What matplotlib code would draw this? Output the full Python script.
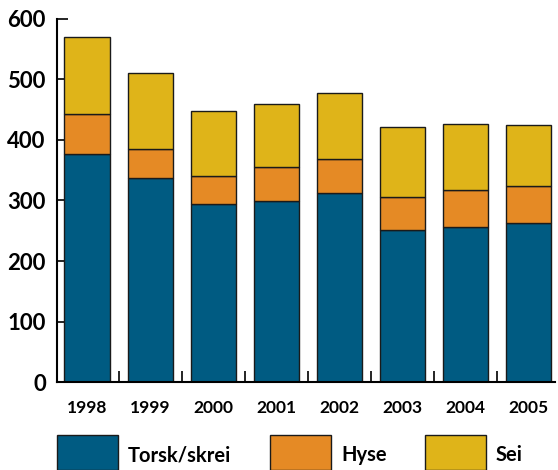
import numpy as np
import matplotlib.pyplot as plt
from matplotlib.patches import Rectangle

plt.rcParams['font.family'] = ['Lato', 'DejaVu Sans']

years = ['1998', '1999', '2000', '2001', '2002', '2003', '2004', '2005']
torsk = [377, 337, 294, 299, 312, 251, 256, 263]
hyse = [66, 48, 46, 56, 57, 55, 61, 61]
sei = [127, 126, 108, 105, 109, 115, 109, 101]
series_names = ['Torsk/skrei', 'Hyse', 'Sei']
colors = ['#005b82', '#e58a25', '#dfb419']

fig = plt.figure(figsize=(5.58, 4.70), dpi=100)
ax = fig.add_axes([0.102, 0.187, 0.893, 0.773])

x = np.arange(len(years))
bottom = np.zeros(len(years))
for vals, col in zip([torsk, hyse, sei], colors):
    ax.bar(x, vals, bottom=bottom, width=0.72, color=col,
           edgecolor='#1a1a1a', linewidth=1.0, zorder=2)
    bottom += np.array(vals)

ax.set_ylim(0, 600)
ax.set_xlim(-0.48, 7.42)
ax.set_yticks(range(0, 601, 100))
ax.set_yticklabels([str(v) for v in range(0, 601, 100)],
                   fontsize=16, fontweight='bold')
ax.tick_params(axis='y', direction='in', length=8, width=1.2, pad=8)

# year labels under bars, ticks between categories
ax.set_xticks(np.arange(0.5, len(years) - 0.5))
ax.set_xticklabels([])
ax.tick_params(axis='x', direction='in', length=8, width=1.2)
for i, yr in enumerate(years):
    ax.text(i, -42, yr, ha='center', va='center', fontsize=12.5,
            fontweight='bold')

for s in ['top', 'right']:
    ax.spines[s].set_visible(False)
for s in ['left', 'bottom']:
    ax.spines[s].set_linewidth(1.5)

# legend
leg_x = [57, 270, 425]
for lx, name, col in zip(leg_x, series_names, colors):
    fig.add_artist(Rectangle((lx / 558, 0), 61 / 558, 35 / 470,
                             transform=fig.transFigure, facecolor=col,
                             edgecolor='#1a1a1a', linewidth=1.0))
    fig.text((lx + 71) / 558, 1 - 455 / 470, name, ha='left', va='center',
             fontsize=14.5, fontweight='bold')

fig.savefig('out.png', dpi=100)
